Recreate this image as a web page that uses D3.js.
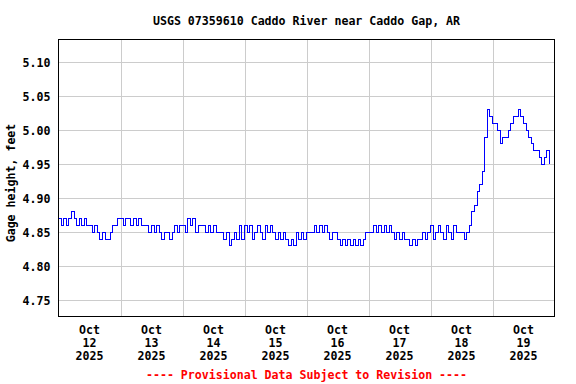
<!DOCTYPE html>
<html>
<head>
<meta charset="utf-8">
<script src="https://cdn.jsdelivr.net/npm/d3@7"></script>
<style>
    body { margin: 0; background: #fff; }
    text { font-family: "DejaVu Sans Mono", monospace; font-weight: bold; font-size: 11.6px; fill: #000; }
</style>
</head>
<body>
<svg id="chart" width="576" height="384"></svg>
<script>
const title = "USGS 07359610 Caddo River near Caddo Gap, AR";
const yLabel = "Gage height, feet";
const footer = "---- Provisional Data Subject to Revision ----";

// hourly gage height, feet, starting Oct 12 2025 00:00
const oct12 = [4.87,4.86,4.87,4.86,4.87,4.88,4.87,4.86,4.87,4.86,4.87,4.86,4.86,4.85,4.86,4.85,4.84,4.85,4.84,4.84,4.85,4.86,4.86,4.87];
const oct13 = [4.87,4.86,4.87,4.87,4.86,4.87,4.86,4.87,4.86,4.86,4.86,4.85,4.86,4.85,4.86,4.85,4.84,4.85,4.85,4.84,4.85,4.86,4.85,4.86];
const oct14 = [4.86,4.85,4.87,4.86,4.87,4.85,4.86,4.86,4.86,4.85,4.86,4.85,4.86,4.85,4.85,4.85,4.84,4.85,4.83,4.84,4.85,4.84,4.86,4.84];
const oct15 = [4.86,4.85,4.86,4.84,4.85,4.86,4.85,4.84,4.86,4.85,4.86,4.85,4.84,4.85,4.84,4.85,4.84,4.83,4.84,4.83,4.85,4.84,4.85,4.84];
const oct16 = [4.85,4.85,4.85,4.86,4.85,4.86,4.85,4.86,4.85,4.84,4.85,4.85,4.84,4.83,4.84,4.83,4.84,4.83,4.84,4.83,4.84,4.83,4.84,4.85];
const oct17 = [4.85,4.85,4.86,4.85,4.86,4.85,4.86,4.85,4.86,4.85,4.84,4.85,4.84,4.85,4.84,4.84,4.83,4.84,4.83,4.84,4.84,4.85,4.84,4.85];
const oct18 = [4.86,4.84,4.85,4.86,4.85,4.84,4.86,4.85,4.84,4.86,4.85,4.85,4.85,4.84,4.85,4.86,4.88,4.89,4.91,4.92,4.94,4.99,5.03,5.02];
const oct19 = [5.01,5.01,5.00,4.98,4.99,4.99,5.00,5.01,5.02,5.02,5.03,5.02,5.01,5.00,4.99,4.98,4.97,4.97,4.96,4.95,4.96,4.97,4.95];

const yTicks = [4.75, 4.80, 4.85, 4.90, 4.95, 5.00, 5.05, 5.10];
const yDomain = [4.727, 5.1335];
const startDate = new Date(2025, 9, 12);
const endDate = new Date(2025, 9, 20);

let chart = {
    render: function() {
        const svg = d3.select("#chart");
        svg.selectAll("*").remove();
        const margin = {top: 39.5, right: 21.5, bottom: 68, left: 58.5};
        const width = 576, height = 384;

        const values = [].concat(oct12, oct13, oct14, oct15, oct16, oct17, oct18, oct19);
        const data = values.map((v, i) => ({date: d3.timeHour.offset(startDate, i), value: v}));

        const x = d3.scaleTime()
            .domain([startDate, endDate])
            .range([margin.left, width - margin.right]);
        const y = d3.scaleLinear()
            .domain(yDomain)
            .range([height - margin.bottom, margin.top]);

        // gridlines + y labels
        const yAxis = d3.axisLeft(y)
            .tickValues(yTicks)
            .tickFormat(d3.format(".2f"))
            .tickSize(-(width - margin.right - margin.left))
            .tickPadding(8);
        const gy = svg.append("g")
            .attr("transform", `translate(${margin.left},0)`)
            .call(yAxis);
        gy.select(".domain").remove();
        gy.selectAll("line").attr("stroke", "#cccccc").attr("shape-rendering", "crispEdges");
        gy.selectAll("text").attr("font-family", null).attr("font-size", null);

        const days = d3.timeDay.range(startDate, endDate);
        const xGrid = d3.axisBottom(x)
            .tickValues(days.slice(1))
            .tickFormat("")
            .tickSize(-(height - margin.bottom - margin.top));
        const gx = svg.append("g")
            .attr("transform", `translate(0,${height - margin.bottom})`)
            .call(xGrid);
        gx.select(".domain").remove();
        gx.selectAll("line").attr("stroke", "#cccccc").attr("shape-rendering", "crispEdges");

        // day labels at noon
        const labels = svg.append("g");
        days.forEach(d => {
            const noon = x(d3.timeHour.offset(d, 12));
            const t = labels.append("text")
                .attr("text-anchor", "middle")
                .attr("x", noon);
            t.append("tspan").attr("x", noon).attr("y", 334).text(d3.timeFormat("%b")(d));
            t.append("tspan").attr("x", noon).attr("y", 347).text(d3.timeFormat("%-d")(d));
            t.append("tspan").attr("x", noon).attr("y", 360).text(d3.timeFormat("%Y")(d));
        });

        // data line
        const line = d3.line()
            .x(d => x(d.date))
            .y(d => y(d.value))
            .curve(d3.curveStepAfter);
        svg.append("path")
            .datum(data)
            .attr("fill", "none")
            .attr("stroke", "#0000ff")
            .attr("stroke-width", 1)
            .attr("shape-rendering", "crispEdges")
            .attr("d", line);

        // frame
        svg.append("rect")
            .attr("x", margin.left)
            .attr("y", margin.top)
            .attr("width", width - margin.right - margin.left)
            .attr("height", height - margin.bottom - margin.top)
            .attr("fill", "none")
            .attr("stroke", "#000")
            .attr("stroke-width", 1)
            .attr("shape-rendering", "crispEdges");

        // texts
        const cx = (margin.left + width - margin.right) / 2;
        svg.append("text")
            .attr("x", cx).attr("y", 25)
            .attr("text-anchor", "middle")
            .text(title);
        svg.append("text")
            .attr("transform", "translate(15,183) rotate(-90)")
            .attr("text-anchor", "middle")
            .text(yLabel);
        svg.append("text")
            .attr("x", cx).attr("y", 379)
            .attr("text-anchor", "middle")
            .style("fill", "#ff0000")
            .text(footer);
    }
}

chart.render();
</script>
</body>
</html>
